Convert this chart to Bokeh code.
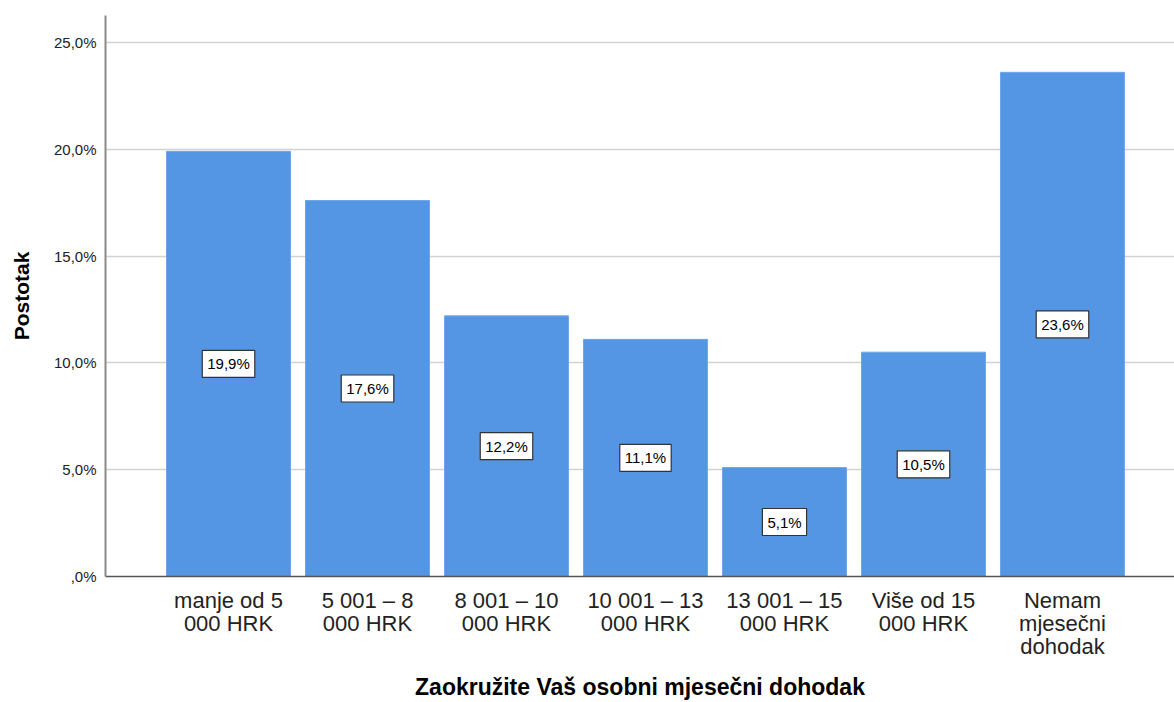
from bokeh.plotting import figure
from bokeh.models import Range1d, FixedTicker, Label
from bokeh.embed import file_html
from bokeh.resources import INLINE

categories = ["manje od 5\n000 HRK", "5 001 – 8\n000 HRK", "8 001 – 10\n000 HRK",
              "10 001 – 13\n000 HRK", "13 001 – 15\n000 HRK", "Više od 15\n000 HRK",
              "Nemam\nmjesečni\ndohodak"]
values = [19.9, 17.6, 12.2, 11.1, 5.1, 10.5, 23.6]
value_labels = ["19,9%", "17,6%", "12,2%", "11,1%", "5,1%", "10,5%", "23,6%"]
y_ticks = [0, 5, 10, 15, 20, 25]
y_tick_labels = [",0%", "5,0%", "10,0%", "15,0%", "20,0%", "25,0%"]

FONT = "Liberation Sans"
xs = list(range(len(categories)))

p = figure(width=1174, height=702, output_backend="svg", toolbar_location=None,
           x_range=Range1d(-0.885, 6.806), y_range=Range1d(0, 26.26),
           min_border_left=105, min_border_right=0, min_border_top=15, min_border_bottom=126)
p.outline_line_color = None
p.background_fill_color = "white"

p.vbar(x=xs, top=values, width=0.892, color="#5596E4", line_color="#6fa6e8", line_width=1)

for x, v, t in zip(xs, values, value_labels):
    p.add_layout(Label(x=x, y=v / 2, text=t, text_align="center", text_baseline="middle",
                       text_font=FONT, text_font_size="15px", text_color="black",
                       background_fill_color="white", border_line_color="#333333",
                       border_line_width=1.2, padding=5))

p.xgrid.visible = False
p.ygrid.grid_line_color = "#d2d2d2"
p.ygrid.grid_line_width = 1.6
p.ygrid.ticker = FixedTicker(ticks=y_ticks)

p.yaxis.ticker = FixedTicker(ticks=y_ticks)
p.yaxis.major_label_overrides = {t: l for t, l in zip(y_ticks, y_tick_labels)}
p.yaxis.major_tick_line_color = None
p.yaxis.major_tick_out = 0
p.yaxis.major_tick_in = 0
p.yaxis.minor_tick_line_color = None
p.yaxis.axis_line_color = "#8a8a8a"
p.yaxis.axis_line_width = 2
p.yaxis.major_label_text_font = FONT
p.yaxis.major_label_text_font_size = "15px"
p.yaxis.major_label_text_color = "#222222"
p.yaxis.major_label_standoff = 9
p.yaxis.axis_label = "Postotak"
p.yaxis.axis_label_text_font = FONT
p.yaxis.axis_label_text_font_size = "21px"
p.yaxis.axis_label_text_font_style = "bold"
p.yaxis.axis_label_text_color = "black"
p.yaxis.axis_label_standoff = 18

p.xaxis.ticker = FixedTicker(ticks=xs)
p.xaxis.major_label_overrides = {x: c for x, c in zip(xs, categories)}
p.xaxis.major_tick_line_color = None
p.xaxis.major_tick_out = 0
p.xaxis.major_tick_in = 0
p.xaxis.minor_tick_line_color = None
p.xaxis.axis_line_color = "#555555"
p.xaxis.axis_line_width = 1.5
p.xaxis.major_label_text_font = FONT
p.xaxis.major_label_text_font_size = "22px"
p.xaxis.major_label_text_color = "#222222"
p.xaxis.major_label_text_line_height = 0.92
p.xaxis.major_label_standoff = 11
p.xaxis.axis_label = "Zaokružite Vaš osobni mjesečni dohodak"
p.xaxis.axis_label_text_font = FONT
p.xaxis.axis_label_text_font_size = "23px"
p.xaxis.axis_label_text_font_style = "bold"
p.xaxis.axis_label_text_color = "black"
p.xaxis.axis_label_standoff = 12

open("out.html", "w").write(file_html(p, INLINE))
